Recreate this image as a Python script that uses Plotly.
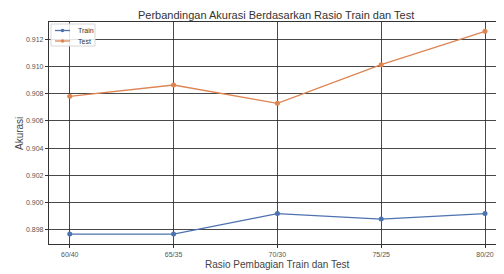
import plotly.graph_objects as go

categories = ["60/40", "65/35", "70/30", "75/25", "80/20"]
train_acc = [0.8977, 0.8977, 0.8992, 0.8988, 0.8992]
test_acc = [0.9078, 0.90863, 0.90729, 0.91012, 0.91257]
y_ticks = [0.898, 0.900, 0.902, 0.904, 0.906, 0.908, 0.910, 0.912]
series_names = ["Train", "Test"]
series_colors = ["#4c72b0", "#dd8452"]

xs = list(range(len(categories)))

fig = go.Figure()
for name, vals, col in zip(series_names, [train_acc, test_acc], series_colors):
    fig.add_trace(go.Scatter(x=xs, y=vals, mode="lines+markers", name=name,
                             line=dict(color=col, width=1.3),
                             marker=dict(color=col, size=5),
                             showlegend=False))

# page is rendered with an 8px body margin; design in page pixels
OFF = 8
W, H = 504 - OFF, 274 - OFF
L, R, T, B = 49 - OFF, 0, 22 - OFF, 30
pw, ph = W - L - R, H - T - B

def px(x):
    return (x - OFF - L) / pw

def py(y):
    return 1 - (y - OFF - T) / ph

font_family = "Liberation Sans, Arial, sans-serif"

# manual compact legend (matplotlib style)
shapes = [dict(type="rect", xref="paper", yref="paper",
               x0=px(51), x1=px(95), y0=py(46), y1=py(24),
               fillcolor="rgba(255,255,255,0.85)", line=dict(color="#d8d8d8", width=1))]
annotations = []
for i, (name, col) in enumerate(zip(series_names, series_colors)):
    yy = 30.5 + i * 10.5
    shapes.append(dict(type="line", xref="paper", yref="paper",
                       x0=px(55), x1=px(70), y0=py(yy), y1=py(yy),
                       line=dict(color=col, width=1.3)))
    shapes.append(dict(type="circle", xref="paper", yref="paper",
                       x0=px(60.7), x1=px(64.3), y0=py(yy + 1.8), y1=py(yy - 1.8),
                       fillcolor=col, line=dict(color=col, width=0)))
    annotations.append(dict(text=name, xref="paper", yref="paper", x=px(76), y=py(yy),
                            xanchor="left", yanchor="middle", showarrow=False,
                            font=dict(size=7, color="#333333")))

annotations.append(dict(text="Perbandingan Akurasi Berdasarkan Rasio Train dan Test",
                        xref="paper", yref="paper", x=px(276), y=py(8),
                        xanchor="center", yanchor="top", showarrow=False, borderpad=0,
                        font=dict(size=11, color="#333333")))
annotations.append(dict(text="Rasio Pembagian Train dan Test",
                        xref="paper", yref="paper", x=px(277), y=py(264),
                        xanchor="center", yanchor="middle", showarrow=False,
                        font=dict(size=10, color="#444444")))
annotations.append(dict(text="Akurasi", xref="paper", yref="paper", x=px(20), y=py(134),
                        xanchor="center", yanchor="middle", showarrow=False, textangle=-90,
                        font=dict(size=10, color="#444444")))

fig.update_layout(
    width=W, height=H,
    margin=dict(l=L, r=R, t=T, b=B, autoexpand=False),
    paper_bgcolor="white", plot_bgcolor="white",
    font=dict(family=font_family, color="#333333"),
    showlegend=False,
    shapes=shapes, annotations=annotations,
)
fig.update_xaxes(
    range=[-0.2, 4.183], tickmode="array", tickvals=xs, ticktext=categories,
    showgrid=True, gridcolor="rgba(40,40,40,0.85)", gridwidth=1.3,
    showline=True, linecolor="#333333", linewidth=1.3, mirror=True,
    ticks="outside", ticklen=3, tickcolor="#333333",
    tickfont=dict(size=7, color="#555555"),
    automargin=False, zeroline=False,
)
fig.update_yaxes(
    range=[0.89697, 0.91325], tickmode="array", tickvals=y_ticks,
    ticktext=[f"{v:.3f}" for v in y_ticks],
    showgrid=True, gridcolor="rgba(40,40,40,0.85)", gridwidth=1.3,
    showline=True, linecolor="#333333", linewidth=1.3, mirror=True,
    ticks="outside", ticklen=3, tickcolor="#333333",
    tickfont=dict(size=7, color="#555555"),
    automargin=False, zeroline=False,
)

fig.write_html("out.html")
